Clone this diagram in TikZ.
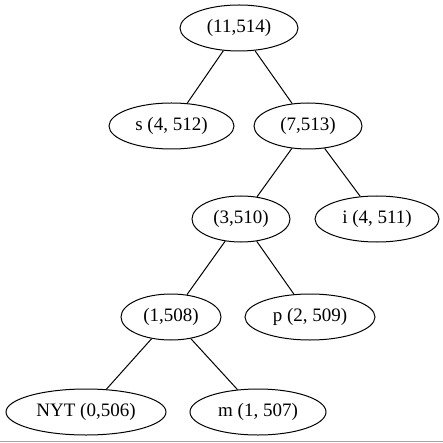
\documentclass[tikz,border=0pt]{standalone}
\usepackage{fontspec}
\setmainfont{Liberation Serif}
\usetikzlibrary{shapes.geometric}
\begin{document}
\begin{tikzpicture}[x=1pt,y=-1pt,
  tnode/.style={draw,ellipse,inner sep=0pt,minimum height=46pt,line width=1pt,font=\fontsize{19}{22}\selectfont},
  edge/.style={line width=1pt}]
\useasboundingbox (0,0) rectangle (443,443);
\fill[white] (0,0) rectangle (443,443);
\draw[gray!70,line width=1pt] (0,441) -- (443,441);
\node[tnode,minimum width=118pt] (r) at (239,28) {(11,514)};
\node[tnode,minimum width=125pt] (s) at (171.5,126) {s (4, 512)};
\node[tnode,minimum width=108pt] (n7) at (308,126) {(7,513)};
\node[tnode,minimum width=98pt] (n3) at (241,219) {(3,510)};
\node[tnode,minimum width=124pt] (i) at (377,219) {i (4, 511)};
\node[tnode,minimum width=100pt] (n1) at (171,317) {(1,508)};
\node[tnode,minimum width=130pt] (p) at (310,317) {p (2, 509)};
\node[tnode,minimum width=160pt] (nyt) at (86,412) {NYT (0,506)};
\node[tnode,minimum width=136pt] (m) at (258,412) {m (1, 507)};
\draw[edge] (r) -- (s);
\draw[edge] (r) -- (n7);
\draw[edge] (n7) -- (n3);
\draw[edge] (n7) -- (i);
\draw[edge] (n3) -- (n1);
\draw[edge] (n3) -- (p);
\draw[edge] (n1) -- (nyt);
\draw[edge] (n1) -- (m);
\end{tikzpicture}
\end{document}
